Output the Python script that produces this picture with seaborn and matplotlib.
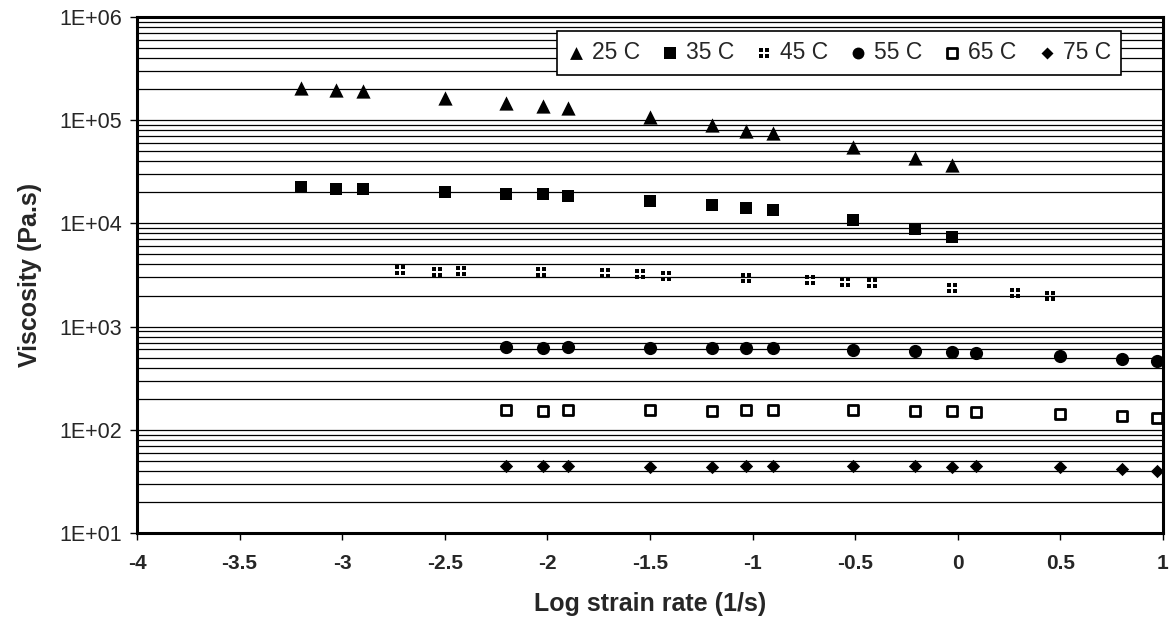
import numpy as np
import pandas as pd
import matplotlib
matplotlib.use("Agg")
import matplotlib.pyplot as plt
from matplotlib.path import Path
from matplotlib.ticker import FuncFormatter, LogLocator, MultipleLocator, NullFormatter
import seaborn as sns

# ---------------- data ----------------
x_25 = [-3.20, -3.03, -2.90, -2.50, -2.20, -2.02, -1.90, -1.50, -1.20, -1.03, -0.90, -0.51, -0.21, -0.03]
v_25 = [2.04e5, 1.96e5, 1.92e5, 1.65e5, 1.48e5, 1.38e5, 1.30e5, 1.07e5, 8.98e4, 7.90e4, 7.46e4, 5.54e4, 4.33e4, 3.66e4]

x_35 = [-3.20, -3.03, -2.90, -2.50, -2.20, -2.02, -1.90, -1.50, -1.20, -1.03, -0.90, -0.51, -0.21, -0.03]
v_35 = [2.27e4, 2.15e4, 2.16e4, 2.00e4, 1.91e4, 1.91e4, 1.84e4, 1.64e4, 1.51e4, 1.41e4, 1.34e4, 1.08e4, 8.77e3, 7.38e3]

x_45 = [-2.72, -2.54, -2.42, -2.03, -1.72, -1.55, -1.42, -1.03, -0.72, -0.55, -0.42, -0.03, 0.28, 0.45]
v_45 = [3535, 3404, 3480, 3404, 3282, 3213, 3113, 2977, 2830, 2725, 2628, 2351, 2118, 1982]

x_55 = [-2.20, -2.02, -1.90, -1.50, -1.20, -1.03, -0.90, -0.51, -0.21, -0.03, 0.09, 0.50, 0.80, 0.97]
v_55 = [630, 625, 630, 618, 616, 616, 616, 593, 580, 568, 551, 519, 482, 467]

x_65 = [-2.20, -2.02, -1.90, -1.50, -1.20, -1.03, -0.90, -0.51, -0.21, -0.03, 0.09, 0.50, 0.80, 0.97]
v_65 = [156, 152, 156, 155, 153, 155, 157, 155, 153, 152, 150, 142, 136, 129]

x_75 = [-2.20, -2.02, -1.90, -1.50, -1.20, -1.03, -0.90, -0.51, -0.21, -0.03, 0.09, 0.50, 0.80, 0.97]
v_75 = [44.6, 44.3, 44.3, 44.0, 43.5, 44.3, 44.5, 44.3, 44.3, 44.0, 44.3, 44.0, 41.8, 39.7]

series_labels = ["25 C", "35 C", "45 C", "55 C", "65 C", "75 C"]
xlabel = "Log strain rate (1/s)"
ylabel = "Viscosity (Pa.s)"

frames = []
for lab, xs, vs in zip(series_labels, [x_25, x_35, x_45, x_55, x_65, x_75],
                       [v_25, v_35, v_45, v_55, v_65, v_75]):
    frames.append(pd.DataFrame({"lograte": xs, "visc": vs, "T": lab}))
df = pd.concat(frames, ignore_index=True)

# ---------------- custom "four dots" marker for 45 C ----------------
def four_dots():
    sq = 0.38
    rects = []
    for cx, cy in [(-0.5, 0.12), (0.12, 0.12), (-0.5, -0.5), (0.12, -0.5)]:
        verts = [(cx, cy), (cx + sq, cy), (cx + sq, cy + sq), (cx, cy + sq), (cx, cy)]
        codes = [Path.MOVETO, Path.LINETO, Path.LINETO, Path.LINETO, Path.CLOSEPOLY]
        rects.append(Path(verts, codes))
    return Path.make_compound_path(*rects)

styles = {
    "25 C": dict(marker="^", s=105, color="black", edgecolor="black", linewidth=0),
    "35 C": dict(marker="s", s=85, color="black", edgecolor="black", linewidth=0),
    "45 C": dict(marker=four_dots(), s=55, color="black", edgecolor="black", linewidth=0),
    "55 C": dict(marker="o", s=90, color="black", edgecolor="black", linewidth=0),
    "65 C": dict(marker="s", s=62, facecolor="white", edgecolor="black", linewidth=2.0),
    "75 C": dict(marker="D", s=46, color="black", edgecolor="black", linewidth=0),
}

# ---------------- figure ----------------
sns.set_style("white")
plt.rcParams["font.family"] = ["Liberation Sans", "DejaVu Sans"]

fig = plt.figure(figsize=(11.7, 6.35), dpi=100)
ax = fig.add_axes([137 / 1170, 1 - 533 / 635, (1163 - 137) / 1170, (533 - 17) / 635])

for lab in series_labels:
    sub = df[df["T"] == lab]
    sns.scatterplot(data=sub, x="lograte", y="visc", ax=ax, label=lab, zorder=3, **styles[lab])

ax.set_yscale("log")
ax.set_xlim(-4, 1)
ax.set_ylim(10, 1e6)

ax.yaxis.set_major_locator(LogLocator(base=10, numticks=10))
ax.yaxis.set_minor_locator(LogLocator(base=10, subs=np.arange(2, 10), numticks=20))
ax.yaxis.set_major_formatter(FuncFormatter(lambda v, p: "1E+%02d" % int(round(np.log10(v)))))
ax.yaxis.set_minor_formatter(NullFormatter())
ax.xaxis.set_major_locator(MultipleLocator(0.5))
ax.xaxis.set_major_formatter(FuncFormatter(lambda v, p: "%g" % v))

ax.grid(True, axis="y", which="both", color="black", linewidth=0.9, zorder=0)
ax.grid(False, axis="x")
ax.set_axisbelow(True)

for sp in ax.spines.values():
    sp.set_visible(True)
    sp.set_color("black")
    sp.set_linewidth(2.2)

ax.tick_params(axis="both", which="major", direction="out", length=5, width=1, color="black",
               bottom=True, left=True)
ax.tick_params(axis="y", which="minor", length=0, left=False)
ax.tick_params(axis="y", labelsize=15.5, pad=6)
ax.tick_params(axis="x", labelsize=15, pad=10)
for t in ax.get_xticklabels():
    t.set_fontweight("bold")

ax.set_xlabel(xlabel, fontsize=18, fontweight="bold", labelpad=14)
ax.set_ylabel(ylabel, fontsize=18, fontweight="bold", labelpad=12)

leg = ax.legend(loc="upper right", bbox_to_anchor=((1121 - 137) / 1026, (533 - 31) / 516),
                borderaxespad=0.0,
                ncol=6, frameon=True, fancybox=False, fontsize=16.5,
                handlelength=0.8, handletextpad=0.3, columnspacing=0.9,
                borderpad=0.45, markerscale=0.9)
leg.get_frame().set_edgecolor("black")
leg.get_frame().set_linewidth(1.2)
leg.get_frame().set_facecolor("white")
leg.get_frame().set_alpha(1)

fig.savefig("out.png", dpi=100, facecolor="white")
